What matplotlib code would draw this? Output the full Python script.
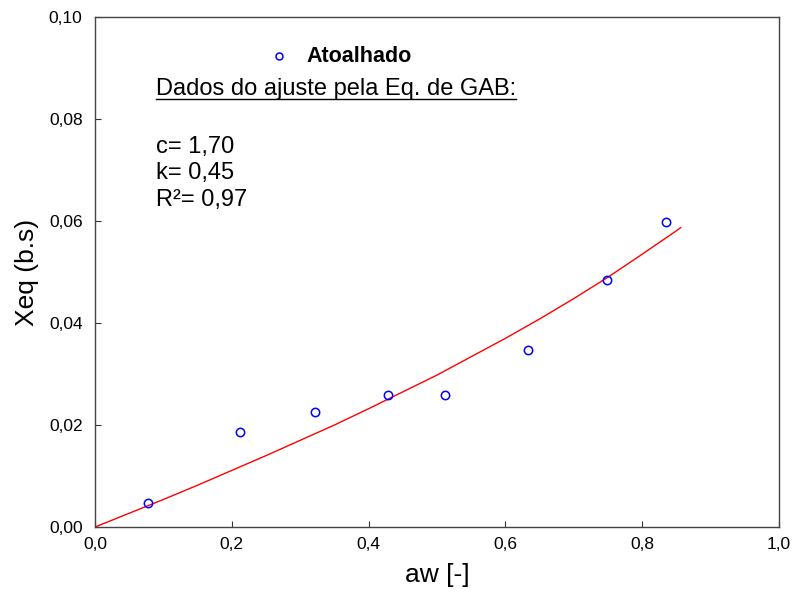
import matplotlib
matplotlib.use("Agg")
import matplotlib.pyplot as plt
from matplotlib.lines import Line2D

plt.rcParams['font.family'] = ['Liberation Sans', 'DejaVu Sans']

# pontos experimentais (Atoalhado)
aw_exp = [0.078, 0.212, 0.322, 0.428, 0.512, 0.633, 0.749, 0.835]
xeq_exp = [0.0047, 0.0186, 0.0225, 0.0259, 0.0259, 0.0347, 0.0484, 0.0598]

# curva do ajuste GAB
aw_fit = [0.0, 0.05, 0.10, 0.15, 0.20, 0.25, 0.30, 0.35, 0.40, 0.45,
          0.50, 0.55, 0.60, 0.65, 0.70, 0.75, 0.80, 0.85, 0.856]
xeq_fit = [0.0, 0.0027, 0.0054, 0.0082, 0.0111, 0.0140, 0.0170, 0.0200,
           0.0232, 0.0265, 0.0298, 0.0334, 0.0370, 0.0408, 0.0448, 0.0490,
           0.0535, 0.0581, 0.0587]

x_ticks = [0.0, 0.2, 0.4, 0.6, 0.8, 1.0]
y_ticks = [0.00, 0.02, 0.04, 0.06, 0.08, 0.10]
params = ["c= 1,70", "k= 0,45", "R²= 0,97"]

fig = plt.figure(figsize=(7.95, 6.01), dpi=100)
ax = fig.add_axes([0.1195, 0.1231, 0.8605, 0.8486])

ax.plot(aw_fit, xeq_fit, color='#ff0000', linewidth=1.0)
ax.plot(aw_exp, xeq_exp, linestyle='none', marker='o', markersize=6,
        markerfacecolor='none', markeredgecolor='#0000ff', markeredgewidth=1.1)

ax.set_xlim(0, 1)
ax.set_ylim(0, 0.1)
ax.set_xticks(x_ticks)
ax.set_xticklabels([f"{v:.1f}".replace('.', ',') for v in x_ticks])
ax.set_yticks(y_ticks)
ax.set_yticklabels([f"{v:.2f}".replace('.', ',') for v in y_ticks])
ax.tick_params(direction='in', length=4, labelsize=12.5, colors='#333333',
               labelcolor='black')
ax.tick_params(axis='y', pad=9)
ax.tick_params(axis='x', pad=7)
for s in ax.spines.values():
    s.set_color('#444444')
    s.set_linewidth(1.0)

ax.set_xlabel("aw [-]", fontsize=19, labelpad=8)
ax.set_ylabel("Xeq (b.s)", fontsize=19, labelpad=7)

# legenda e dados do ajuste
fig.add_artist(Line2D([279 / 795], [1 - 56 / 601], transform=fig.transFigure,
                      linestyle='none', marker='o', markersize=5,
                      markerfacecolor='none', markeredgecolor='#0000ff',
                      markeredgewidth=1.1))
fig.text(306 / 795, 1 - 57 / 601, "Atoalhado", fontsize=15.5, fontweight='bold',
         ha='left', va='center')
title = fig.text(156 / 795, 1 - 89.5 / 601, "Dados do ajuste pela Eq. de GAB:",
                 fontsize=17, ha='left', va='center')
for i, p in enumerate(params):
    fig.text(156 / 795, 1 - (147 + 26.5 * i) / 601, p, fontsize=17,
             ha='left', va='center')

# sublinhado
fig.canvas.draw()
bb = title.get_window_extent().transformed(fig.transFigure.inverted())
fig.add_artist(Line2D([bb.x0, bb.x1], [bb.y0 + 0.002, bb.y0 + 0.002],
                      transform=fig.transFigure, color='black', linewidth=1.0))

fig.savefig("out.png", dpi=100)
